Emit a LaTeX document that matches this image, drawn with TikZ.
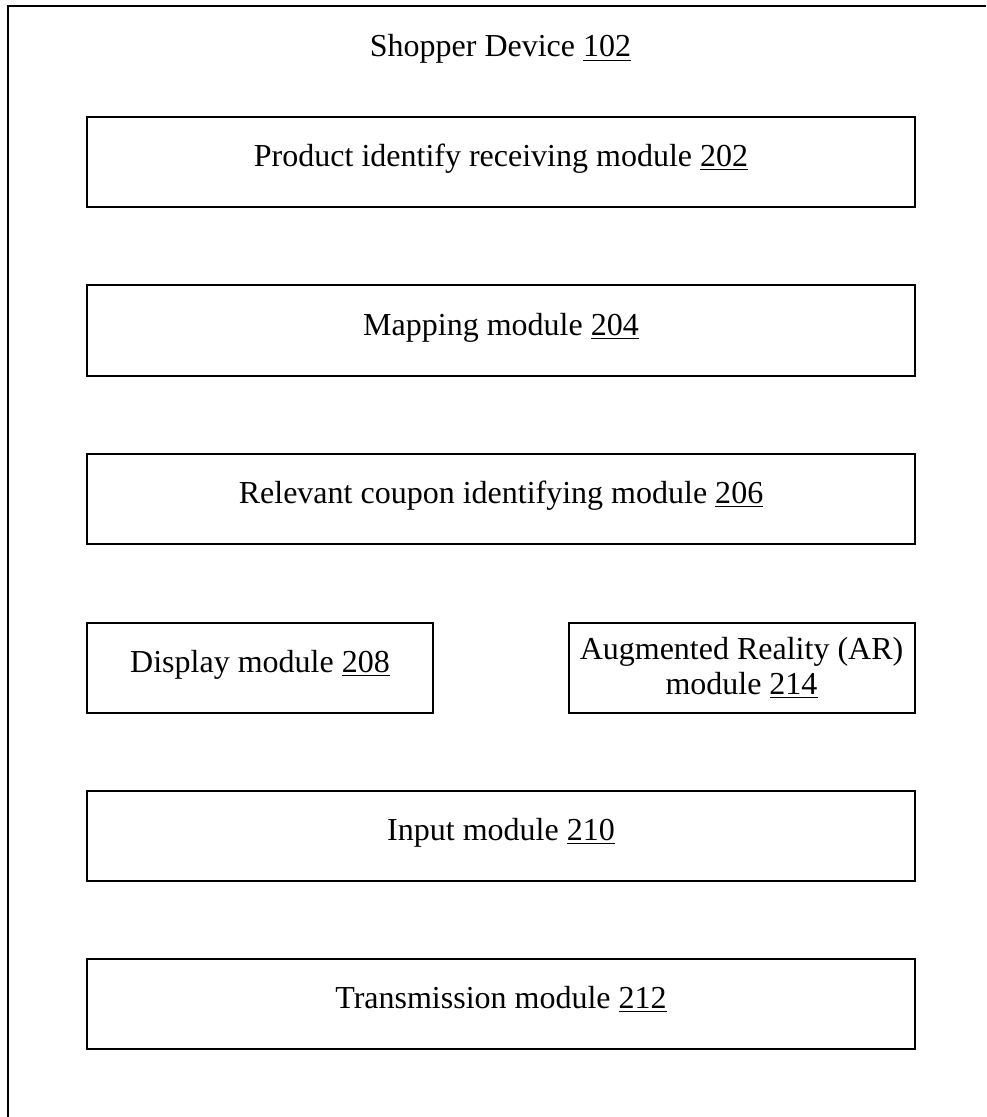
\documentclass[tikz,border=0pt]{standalone}
\usepackage{fontspec}
\setmainfont{Liberation Serif}
\begin{document}
\begin{tikzpicture}[x=1pt,y=1pt,
  frame/.style={line width=1pt},
  modbox/.style={draw, line width=1pt, inner sep=0pt, align=center,
    minimum height=45pt, font=\fontsize{16}{17.5}\selectfont},
  widebox/.style={modbox, minimum width=414pt, text height=0.69em, text depth=0.22em},
  halfbox/.style={modbox, minimum width=173pt},
  title/.style={font=\fontsize{16}{17.5}\selectfont, inner sep=0pt, anchor=base}]
  \useasboundingbox (0,0) rectangle (493,-558.5);

  % device enclosure, running off the right and bottom edges
  \draw[frame] (493,-3) -- (4,-3) -- (4,-558.5);

  \node[title] (dev) at (250.25,-28.5) {Shopper Device \underline{102}};

  \node[widebox] (m202) at (250.5,-81)     {Product identify receiving module \underline{202}};
  \node[widebox] (m204) at (250.5,-165.25) {Mapping module \underline{204}};
  \node[widebox] (m206) at (250.5,-249.5)  {Relevant coupon identifying module \underline{206}};
  \node[halfbox, text height=0.69em, text depth=0.22em] (m208) at (130,-333.75) {Display module \underline{208}};
  \node[halfbox] (m214) at (370.75,-333.75) {Augmented Reality (AR)\\module \underline{214}};
  \node[widebox] (m210) at (250.5,-417.75) {Input module \underline{210}};
  \node[widebox] (m212) at (250.5,-502)    {Transmission module \underline{212}};
\end{tikzpicture}
\end{document}
